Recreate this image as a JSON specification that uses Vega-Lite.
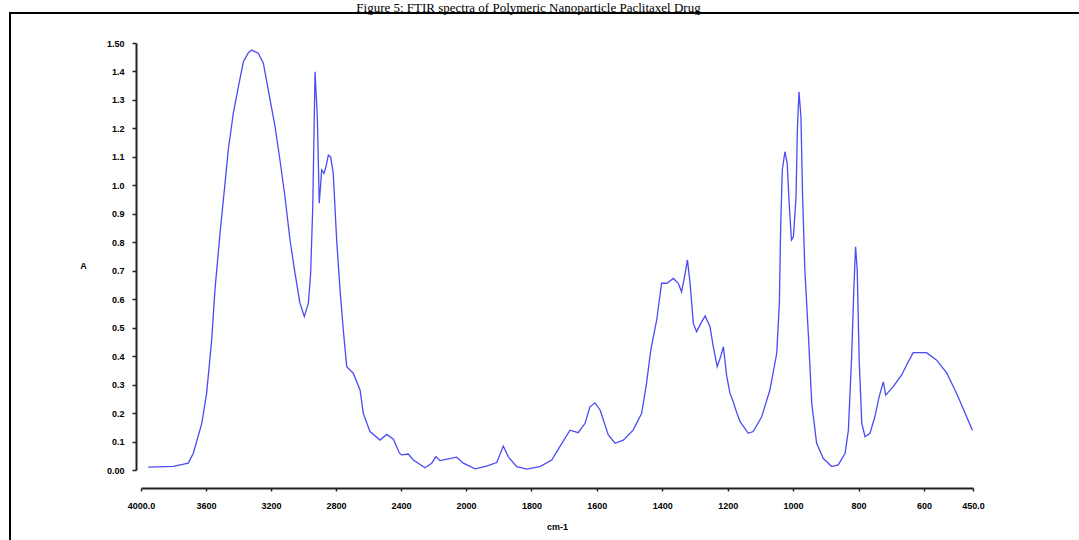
{
  "$schema": "https://vega.github.io/schema/vega-lite/v6.json",
  "autosize": {"type": "none"},
  "padding": {"left": 10, "top": 13, "right": 0, "bottom": 0},
  "width": 1075,
  "height": 535,
  "background": "white",
  "config": {
    "view": {"stroke": "black", "strokeWidth": 2},
    "axis": {"grid": false}
  },
  "title": {
    "text": "Figure 5: FTIR spectra of Polymeric Nanoparticle Paclitaxel Drug",
    "font": "Liberation Serif",
    "fontSize": 13,
    "fontWeight": "normal",
    "color": "black",
    "anchor": "middle",
    "frame": "group",
    "dx": -19,
    "dy": 14,
    "offset": 2,
    "baseline": "alphabetic"
  },
  "data": {
    "values": [
      {"wn": 3955, "a": 0.01},
      {"wn": 3801, "a": 0.013},
      {"wn": 3709, "a": 0.024},
      {"wn": 3678, "a": 0.059},
      {"wn": 3626, "a": 0.164},
      {"wn": 3596, "a": 0.27},
      {"wn": 3565, "a": 0.457},
      {"wn": 3545, "a": 0.632},
      {"wn": 3514, "a": 0.83},
      {"wn": 3483, "a": 1.007},
      {"wn": 3463, "a": 1.124},
      {"wn": 3432, "a": 1.253},
      {"wn": 3401, "a": 1.346},
      {"wn": 3370, "a": 1.434},
      {"wn": 3340, "a": 1.465},
      {"wn": 3319, "a": 1.475},
      {"wn": 3278, "a": 1.464},
      {"wn": 3247, "a": 1.429},
      {"wn": 3217, "a": 1.335},
      {"wn": 3175, "a": 1.206},
      {"wn": 3145, "a": 1.089},
      {"wn": 3114, "a": 0.96},
      {"wn": 3083, "a": 0.808},
      {"wn": 3052, "a": 0.691},
      {"wn": 3022, "a": 0.586},
      {"wn": 2995, "a": 0.539},
      {"wn": 2970, "a": 0.586},
      {"wn": 2956, "a": 0.691},
      {"wn": 2943, "a": 0.925},
      {"wn": 2929, "a": 1.399},
      {"wn": 2915, "a": 1.241},
      {"wn": 2903, "a": 0.937},
      {"wn": 2888, "a": 1.054},
      {"wn": 2874, "a": 1.042},
      {"wn": 2862, "a": 1.065},
      {"wn": 2847, "a": 1.106},
      {"wn": 2833, "a": 1.1},
      {"wn": 2817, "a": 1.042},
      {"wn": 2796, "a": 0.808},
      {"wn": 2775, "a": 0.632},
      {"wn": 2755, "a": 0.492},
      {"wn": 2734, "a": 0.363},
      {"wn": 2694, "a": 0.34},
      {"wn": 2652, "a": 0.281},
      {"wn": 2632, "a": 0.199},
      {"wn": 2591, "a": 0.135},
      {"wn": 2529, "a": 0.105},
      {"wn": 2488, "a": 0.125},
      {"wn": 2447, "a": 0.108},
      {"wn": 2410, "a": 0.06},
      {"wn": 2396, "a": 0.053},
      {"wn": 2355, "a": 0.056},
      {"wn": 2324, "a": 0.035},
      {"wn": 2252, "a": 0.008},
      {"wn": 2211, "a": 0.024},
      {"wn": 2185, "a": 0.047},
      {"wn": 2160, "a": 0.033},
      {"wn": 2057, "a": 0.045},
      {"wn": 2017, "a": 0.024},
      {"wn": 1972, "a": 0.004},
      {"wn": 1937, "a": 0.014},
      {"wn": 1906, "a": 0.026},
      {"wn": 1886, "a": 0.084},
      {"wn": 1871, "a": 0.047},
      {"wn": 1845, "a": 0.012},
      {"wn": 1814, "a": 0.003},
      {"wn": 1774, "a": 0.012},
      {"wn": 1738, "a": 0.035},
      {"wn": 1713, "a": 0.082},
      {"wn": 1682, "a": 0.14},
      {"wn": 1657, "a": 0.131},
      {"wn": 1636, "a": 0.164},
      {"wn": 1621, "a": 0.222},
      {"wn": 1606, "a": 0.236},
      {"wn": 1590, "a": 0.211},
      {"wn": 1565, "a": 0.123},
      {"wn": 1544, "a": 0.094},
      {"wn": 1519, "a": 0.105},
      {"wn": 1489, "a": 0.14},
      {"wn": 1463, "a": 0.199},
      {"wn": 1448, "a": 0.305},
      {"wn": 1435, "a": 0.422},
      {"wn": 1417, "a": 0.527},
      {"wn": 1402, "a": 0.656},
      {"wn": 1386, "a": 0.656},
      {"wn": 1366, "a": 0.673},
      {"wn": 1351, "a": 0.656},
      {"wn": 1341, "a": 0.626},
      {"wn": 1330, "a": 0.691},
      {"wn": 1323, "a": 0.738},
      {"wn": 1315, "a": 0.656},
      {"wn": 1305, "a": 0.515},
      {"wn": 1295, "a": 0.486},
      {"wn": 1282, "a": 0.515},
      {"wn": 1269, "a": 0.541},
      {"wn": 1254, "a": 0.503},
      {"wn": 1244, "a": 0.433},
      {"wn": 1232, "a": 0.363},
      {"wn": 1221, "a": 0.4},
      {"wn": 1213, "a": 0.433},
      {"wn": 1203, "a": 0.33},
      {"wn": 1193, "a": 0.27},
      {"wn": 1183, "a": 0.24},
      {"wn": 1172, "a": 0.2},
      {"wn": 1162, "a": 0.17},
      {"wn": 1137, "a": 0.129},
      {"wn": 1122, "a": 0.135},
      {"wn": 1096, "a": 0.187},
      {"wn": 1071, "a": 0.281},
      {"wn": 1050, "a": 0.41},
      {"wn": 1042, "a": 0.586},
      {"wn": 1038, "a": 0.855},
      {"wn": 1033, "a": 1.054},
      {"wn": 1025, "a": 1.118},
      {"wn": 1018, "a": 1.077},
      {"wn": 1012, "a": 0.937},
      {"wn": 1005, "a": 0.808},
      {"wn": 999, "a": 0.82},
      {"wn": 991, "a": 0.96},
      {"wn": 987, "a": 1.194},
      {"wn": 982, "a": 1.329},
      {"wn": 976, "a": 1.241},
      {"wn": 971, "a": 0.96},
      {"wn": 964, "a": 0.703},
      {"wn": 953, "a": 0.468},
      {"wn": 943, "a": 0.234},
      {"wn": 928, "a": 0.094},
      {"wn": 908, "a": 0.041},
      {"wn": 882, "a": 0.012},
      {"wn": 862, "a": 0.018},
      {"wn": 841, "a": 0.059},
      {"wn": 831, "a": 0.14},
      {"wn": 821, "a": 0.398},
      {"wn": 814, "a": 0.644},
      {"wn": 809, "a": 0.784},
      {"wn": 804, "a": 0.703},
      {"wn": 798, "a": 0.386},
      {"wn": 790, "a": 0.164},
      {"wn": 780, "a": 0.117},
      {"wn": 765, "a": 0.129},
      {"wn": 750, "a": 0.187},
      {"wn": 737, "a": 0.257},
      {"wn": 724, "a": 0.31},
      {"wn": 717, "a": 0.263},
      {"wn": 694, "a": 0.293},
      {"wn": 668, "a": 0.334},
      {"wn": 648, "a": 0.38},
      {"wn": 633, "a": 0.412},
      {"wn": 592, "a": 0.412},
      {"wn": 561, "a": 0.386},
      {"wn": 530, "a": 0.34},
      {"wn": 500, "a": 0.269},
      {"wn": 474, "a": 0.199},
      {"wn": 452, "a": 0.14}
    ]
  },
  "mark": {"type": "line", "color": "#4b4bf5", "strokeWidth": 1.3, "interpolate": "linear"},
  "encoding": {
    "x": {
      "field": "wn",
      "type": "quantitative",
      "sort": null,
      "scale": {"domain": [4000, 2000, 450], "range": [131, 456, 963], "nice": false, "zero": false},
      "axis": {
        "values": [4000, 3600, 3200, 2800, 2400, 2000, 1800, 1600, 1400, 1200, 1000, 800, 600, 450],
        "labelExpr": "datum.value == 4000 ? '4000.0' : datum.value == 450 ? '450.0' : format(datum.value, 'd')",
        "offset": -60,
        "domainColor": "#222222",
        "domainWidth": 2,
        "tickColor": "#222222",
        "tickSize": 3,
        "tickWidth": 1.5,
        "labelFont": "Liberation Sans",
        "labelFontSize": 9,
        "labelFontWeight": "bold",
        "labelColor": "black",
        "labelPadding": 10,
        "labelFlush": false,
        "labelOverlap": false,
        "title": "cm-1",
        "titleFont": "Liberation Sans",
        "titleFontSize": 9,
        "titleFontWeight": "bold",
        "titleColor": "black",
        "titlePadding": 12
      }
    },
    "y": {
      "field": "a",
      "type": "quantitative",
      "scale": {"domain": [0, 1.5], "range": [457, 30], "nice": false, "zero": false},
      "axis": {
        "values": [0, 0.1, 0.2, 0.3, 0.4, 0.5, 0.6, 0.7, 0.8, 0.9, 1.0, 1.1, 1.2, 1.3, 1.4, 1.5],
        "labelExpr": "datum.value == 1.5 ? '1.50' : datum.value == 0 ? '0.00' : format(datum.value, '.1f')",
        "offset": -126,
        "domainColor": "#222222",
        "domainWidth": 2,
        "tickColor": "#222222",
        "tickSize": 4,
        "tickWidth": 1.5,
        "labelFont": "Liberation Sans",
        "labelFontSize": 9,
        "labelFontWeight": "bold",
        "labelColor": "black",
        "labelPadding": 8,
        "labelFlush": false,
        "labelOverlap": false,
        "title": "A",
        "titleFont": "Liberation Sans",
        "titleFontSize": 9,
        "titleFontWeight": "bold",
        "titleColor": "black",
        "titleAngle": 0,
        "titleAlign": "center",
        "titleBaseline": "middle",
        "titleX": -53,
        "titleY": 252
      }
    }
  }
}
